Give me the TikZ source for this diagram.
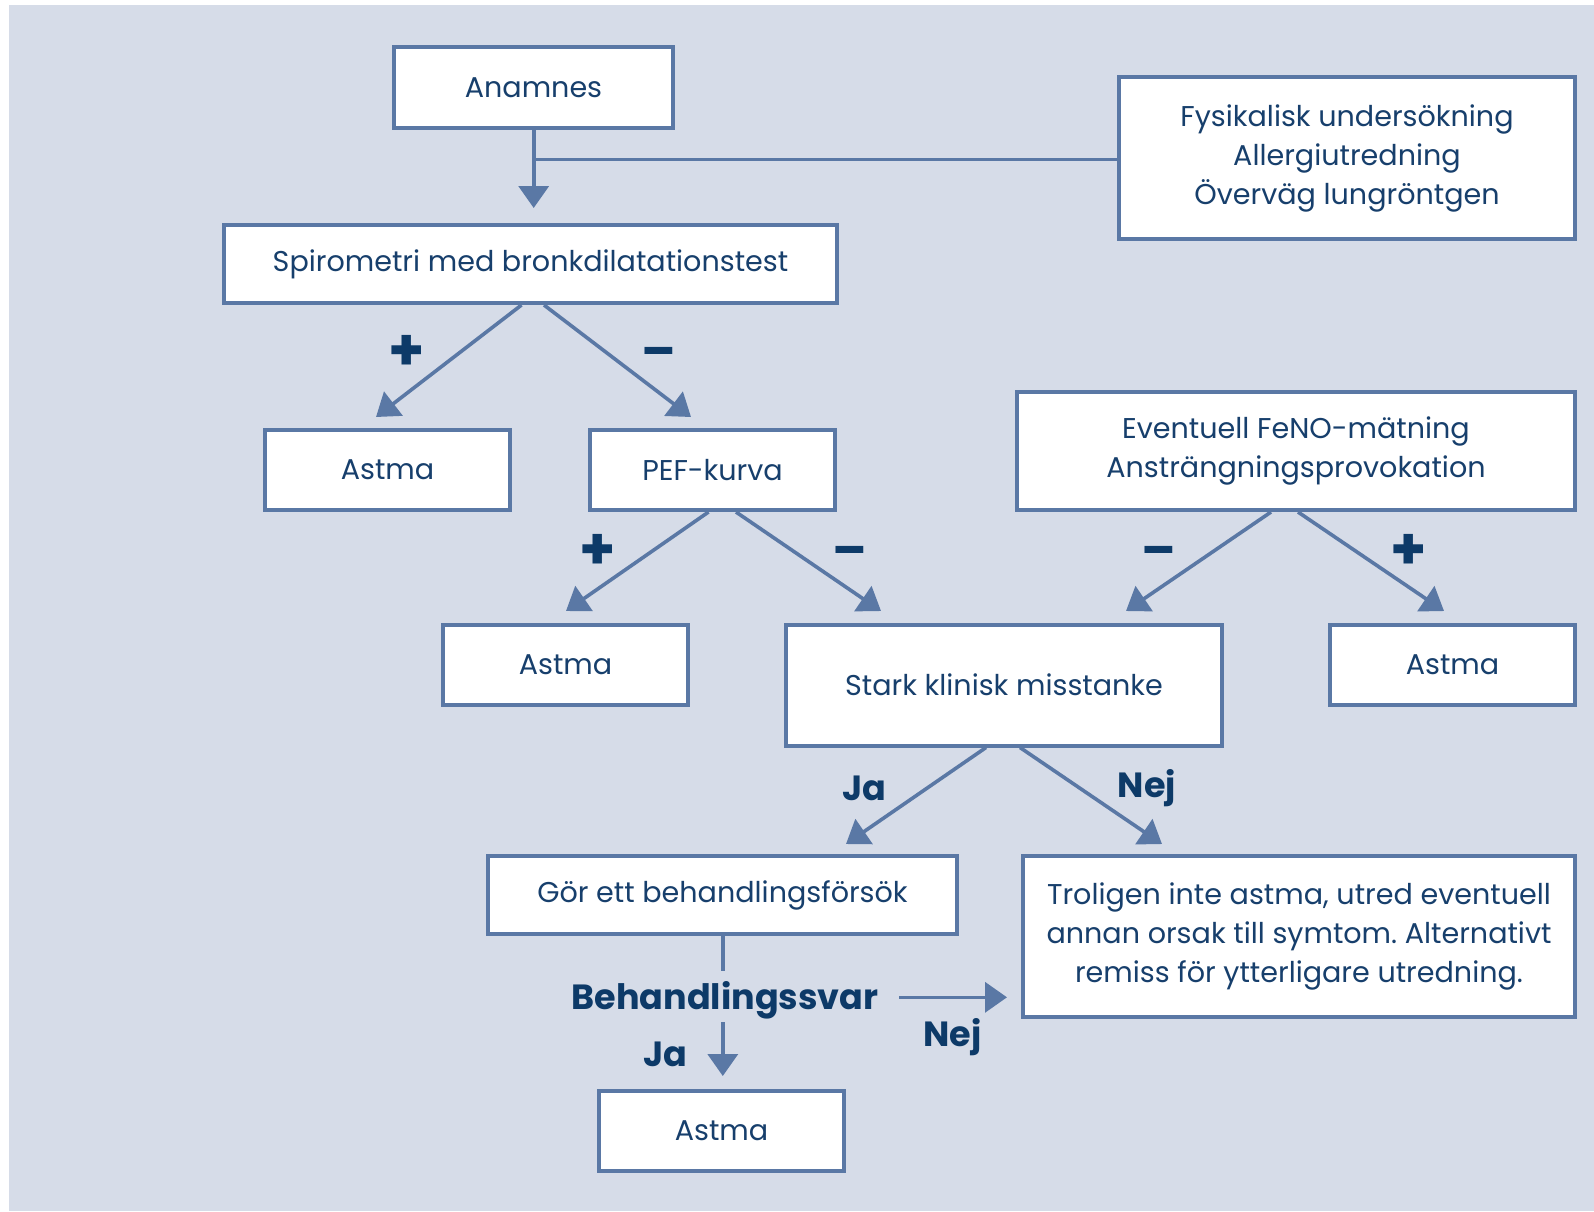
\documentclass[tikz,border=0pt]{standalone}
\usepackage{fontspec}
\setmainfont{Poppins}
\usetikzlibrary{arrows.meta,calc}
\definecolor{bg}{HTML}{D6DCE8}
\definecolor{ln}{HTML}{5A78A5}
\definecolor{tx}{HTML}{173F6C}
\definecolor{lb}{HTML}{0D3A68}
\frenchspacing
\begin{document}
\begin{tikzpicture}[x=0.5pt,y=-0.5pt,
  box/.style={draw=ln,line width=2pt,fill=white,text=tx,inner sep=0pt,align=center,
    font=\fontsize{14.3}{19.5}\selectfont},
  conn/.style={draw=ln,line width=1.8pt},
  arr/.style={conn,-{Triangle[length=11pt,width=15pt]}},
  sign/.style={text=lb,inner sep=0pt,font=\fontsize{29}{29}\selectfont\bfseries},
  minus/.style={text=lb,inner sep=0pt,font=\fontsize{25}{25}\selectfont\bfseries},
  lbl/.style={text=lb,inner sep=0pt,font=\fontsize{17.5}{20}\selectfont\bfseries},
  big/.style={text=lb,inner sep=0pt,font=\fontsize{17.5}{20}\selectfont\bfseries}]
\useasboundingbox (0,0) rectangle (1594,1211);
\fill[white] (0,0) rectangle (1594,1211);
\fill[bg] (9,5) rectangle (1594,1211);

% boxes
\node[box,minimum width=139.5pt,minimum height=40.5pt] (anam) at (533.5,87.5) {Anamnes};
\node[box,minimum width=228pt,minimum height=81pt] (fys) at (1347,158) {Fysikalisk undersökning\\Allergiutredning\\Överväg lungröntgen};
\node[box,minimum width=306.5pt,minimum height=39pt] (spiro) at (530.5,264) {Spirometri med bronkdilatationstest};
\node[box,minimum width=122.5pt,minimum height=40pt] (ast1) at (387.5,470) {Astma};
\node[box,minimum width=122.5pt,minimum height=40pt] (pef) at (712.5,470) {PEF-kurva};
\node[box,minimum width=279pt,minimum height=59pt] (feno) at (1296,451) {Eventuell FeNO-mätning\\Ansträngningsprovokation};
\node[box,minimum width=122.5pt,minimum height=40pt] (ast2) at (565.5,665) {Astma};
\node[box,minimum width=218pt,minimum height=60.5pt] (stark) at (1004,685) {Stark klinisk misstanke};
\node[box,minimum width=122.5pt,minimum height=40pt] (ast3) at (1452.5,665) {Astma};
\node[box,minimum width=234.5pt,minimum height=39pt] (gor) at (722.5,895) {Gör ett behandlingsförsök};
\node[box,minimum width=276pt,minimum height=80.5pt] (trol) at (1299,936) {Troligen inte astma, utred eventuell\\annan orsak till symtom. Alternativt\\remiss för ytterligare utredning.};
\node[box,minimum width=122.5pt,minimum height=40pt] (ast4) at (721.5,1131) {Astma};

\node[big] (svar) at (725,1000) {Behandlingssvar};

% tips
\coordinate (tA) at (533.7,208);
\coordinate (j1) at (533.7,159.6);
\coordinate (t1) at (376,417);
\coordinate (t2) at (691,417);
\coordinate (t3) at (566,611);
\coordinate (t4) at (881,611);
\coordinate (t5) at (1126,611);
\coordinate (t6) at (1444,611);
\coordinate (t7) at (846,844);
\coordinate (t8) at (1162,844);
\coordinate (g1) at (722.8,971);
\coordinate (d0) at (722.8,1022);
\coordinate (d1) at (722.8,1076);
\coordinate (r0) at (899,997.3);
\coordinate (r1) at (1007,997.3);

% connectors
\draw[arr] (anam.south -| tA) -- (tA);
\draw[conn] (j1) -- (j1 -| fys.west);
\draw[arr] ($(spiro.south)+(-9,0)$) -- (t1);
\draw[arr] ($(spiro.south)+(13.5,0)$) -- (t2);
\draw[arr] ($(pef.south)+(-4,0)$) -- (t3);
\draw[arr] ($(pef.south)+(23.5,0)$) -- (t4);
\draw[arr] ($(feno.south)+(-25,0)$) -- (t5);
\draw[arr] ($(feno.south)+(2,0)$) -- (t6);
\draw[arr] ($(stark.south)+(-18,0)$) -- (t7);
\draw[arr] ($(stark.south)+(16,0)$) -- (t8);
\draw[conn] (gor.south -| g1) -- (g1);
\draw[arr] (d0) -- (d1);
\draw[arr] (r0) -- (r1);

% labels
\node[sign] (s1) at (406.6,353) {+};
\node[minus] (s2) at (659,358) {–};
\node[sign] (s3) at (597.8,552) {+};
\node[minus] (s4) at (850,557) {–};
\node[minus] (s5) at (1159,557) {–};
\node[sign] (s6) at (1409,552) {+};
\node[lbl] (l1) at (864,788) {Ja};
\node[lbl] (l2) at (1147,788) {Nej};
\node[lbl] (l3) at (665,1054) {Ja};
\node[lbl] (l4) at (952.6,1037) {Nej};
\end{tikzpicture}
\end{document}
